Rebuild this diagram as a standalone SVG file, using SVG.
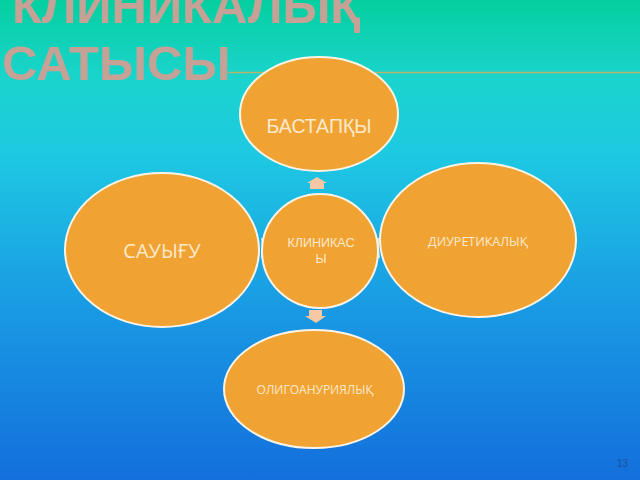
<svg xmlns="http://www.w3.org/2000/svg" width="640" height="480" viewBox="0 0 640 480">
  <defs>
    <linearGradient id="bg" x1="0" y1="0" x2="0" y2="1">
      <stop offset="0" stop-color="#05cf9f"/>
      <stop offset="0.16" stop-color="#1ad4cc"/>
      <stop offset="0.32" stop-color="#1ec9e2"/>
      <stop offset="0.6" stop-color="#1a9fe4"/>
      <stop offset="1" stop-color="#136fdc"/>
    </linearGradient>
    <style>
      .node { fill: #f0a333; stroke: #fbf3e6; stroke-width: 2; }
      .lbl { fill: #fde9cc; text-anchor: middle; }
      .arr { fill: #f6c8a6; }
      .side { fill: #f3e6da; opacity: 0.85; }
      .title { fill: #c6a196; font-family: "Liberation Sans", Arial, sans-serif; font-weight: bold; font-size: 49px; }
    </style>
  </defs>
  <rect x="0" y="0" width="640" height="480" fill="url(#bg)"/>
  <line x1="228" y1="72.5" x2="640" y2="72.5" stroke="#b9b36e" stroke-width="1.5"/>
  <text class="title" x="12" y="23">КЛИНИКАЛЫҚ</text>
  <text class="title" x="2" y="80">САТЫСЫ</text>

  <g id="connectors">
    <polygon class="arr" points="317,177 327,183 324,183 324,189 310,189 310,183 307,183"/>
    <polygon class="arr" points="309,310 322,310 322,316 326,316 316,323 305,316 309,316"/>
    <polygon class="side" points="261,238 264,238 263,248 264,258 261,258 262,248"/>
    <polygon class="side" points="377,238 380,238 379,248 380,258 377,258 378,248"/>
  </g>

  <g id="n-bastapky">
    <ellipse class="node" cx="319" cy="114" rx="79" ry="57"/>
    <text class="lbl" x="319" y="133" font-family="'Liberation Sans', Arial, sans-serif" font-size="19.5">БАСТАПҚЫ</text>
  </g>
  <g id="n-klinika">
    <ellipse class="node" cx="320" cy="251" rx="58" ry="57"/>
    <text class="lbl" x="321" y="247" font-family="'Liberation Sans', Arial, sans-serif" font-size="12.5">КЛИНИКАС</text>
    <text class="lbl" x="321" y="263" font-family="'Liberation Sans', Arial, sans-serif" font-size="12.5">Ы</text>
  </g>
  <g id="n-diuretika">
    <ellipse class="node" cx="478" cy="240" rx="98" ry="77"/>
    <text class="lbl" x="478" y="246" font-family="'Open Sans', sans-serif" font-size="12.5">ДИУРЕТИКАЛЫҚ</text>
  </g>
  <g id="n-sauygu">
    <ellipse class="node" cx="162" cy="250" rx="97" ry="77"/>
    <text class="lbl" x="162" y="258" font-family="'Open Sans', sans-serif" font-size="20">САУЫҒУ</text>
  </g>
  <g id="n-oligo">
    <ellipse class="node" cx="314" cy="389" rx="90" ry="59"/>
    <text class="lbl" x="315" y="394" font-family="'Open Sans', sans-serif" font-size="12">ОЛИГОАНУРИЯЛЫҚ</text>
  </g>

  <text x="617" y="467" font-family="'Liberation Sans', Arial, sans-serif" font-size="10" fill="#1a4f9c">13</text>
</svg>
